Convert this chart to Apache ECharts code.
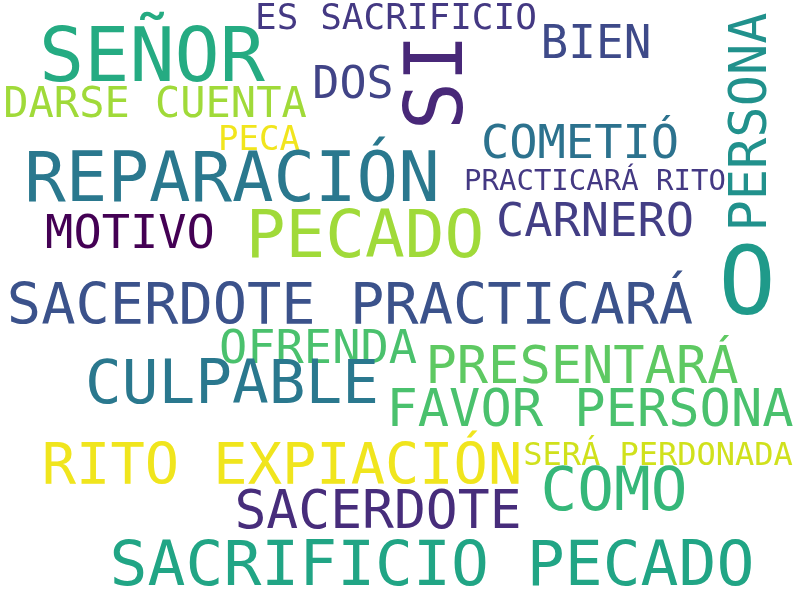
<!DOCTYPE html>
<html><head><meta charset="utf-8">
<script src="https://cdn.jsdelivr.net/npm/echarts@6/dist/echarts.min.js"></script>
<style>html,body{margin:0;background:#fff}#c{width:800px;height:600px}</style>
</head><body><div id="c"></div>
<script>
const words = ["SEÑOR","ES SACRIFICIO","BIEN","SI","PERSONA","DOS","DARSE CUENTA","PECA","COMETIÓ","PRACTICARÁ RITO","REPARACIÓN","MOTIVO","PECADO","CARNERO","O","SACERDOTE PRACTICARÁ","OFRENDA","PRESENTARÁ","CULPABLE","FAVOR PERSONA","RITO EXPIACIÓN","SERÁ PERDONADA","COMO","SACERDOTE","SACRIFICIO PECADO"];
const xs = [152,396,596,441,752,353,155,259,580,595,232,130,365,595,747,350,318,582,232,590,282,658,614,378,432];
const ys = [62,20,46,82,122,86,106,141,146,182,183,236,240,224,289,309,351,369,387,412,469,457,494,514,569];
const sizes = [75,36,46,80,52,45,42,34,47,29,69,47,66,47,95,57,47,52,61,52,57,32,61,53,63];
const rotations = [0,0,0,90,90,0,0,0,0,0,0,0,0,0,0,0,0,0,0,0,0,0,0,0,0];
const colors = ["#25ab82","#443983","#3e4a89","#482878","#21918c","#414487","#a0da39","#f1e51d","#2c728e","#443983","#2a788e","#440154","#a0da39","#433e85","#1f9a8a","#3b528b","#4ac16d","#5ec962","#2a788e","#4ac16d","#f0e51d","#d0e11c","#35b779","#472d7b","#21a585"];
const data = words.map((w,i)=>({
  value:[xs[i],ys[i]], name:w,
  label:{show:true,formatter:w,fontSize:sizes[i],color:colors[i],rotate:rotations[i],opacity:1}
}));
const chart = echarts.init(document.getElementById('c'));
chart.setOption({
  animation:false,
  grid:{left:0,right:0,top:0,bottom:0},
  xAxis:{type:'value',min:0,max:800,show:false},
  yAxis:{type:'value',min:0,max:600,inverse:true,show:false},
  series:[{type:'scatter',symbolSize:0,data:data,itemStyle:{opacity:1},emphasis:{disabled:true},
    label:{show:true,position:'inside',fontFamily:'DejaVu Sans Mono',align:'center',verticalAlign:'middle',opacity:1}}]
});
</script></body></html>
